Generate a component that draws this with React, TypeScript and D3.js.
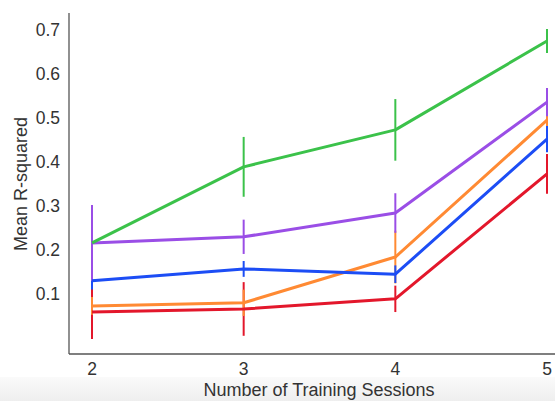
import React from "react";
import * as d3 from "d3";

const sessions = [2, 3, 4, 5];
const yTicks = [0.1, 0.2, 0.3, 0.4, 0.5, 0.6, 0.7];

const redMean = [0.059, 0.066, 0.089, 0.373];
const redErr = [0.061, 0.061, 0.03, 0.045];
const orangeMean = [0.073, 0.08, 0.184, 0.495];
const orangeErr = [0.02, 0.03, 0.06, 0.03];
const blueMean = [0.13, 0.157, 0.145, 0.452];
const blueErr = [0.02, 0.018, 0.02, 0.03];
const purpleMean = [0.216, 0.23, 0.284, 0.536];
const purpleErr = [0.086, 0.039, 0.045, 0.032];
const greenMean = [0.216, 0.389, 0.473, 0.675];
const greenErr = [0.05, 0.068, 0.07, 0.027];

const series = [
  { name: "green", color: "#3bc24a", mean: greenMean, err: greenErr },
  { name: "red", color: "#e3172b", mean: redMean, err: redErr },
  { name: "orange", color: "#ff8a33", mean: orangeMean, err: orangeErr },
  { name: "blue", color: "#1c4df5", mean: blueMean, err: blueErr },
  { name: "purple", color: "#9a4ee6", mean: purpleMean, err: purpleErr },
];
const lineOrder = ["red", "orange", "blue", "purple", "green"];

export default function App() {
  const W = 555;
  const H = 401;
  const left = 69;
  const top = 13;
  const bottom = 354;
  const x = d3.scaleLinear().domain([2, 5]).range([92, 547]);
  const y = d3.scaleLinear().domain([0, 0.7]).range([338, 30]);
  const line = d3
    .line<number>()
    .x((_, i) => x(sessions[i]))
    .y((d) => y(d));
  const font = "'Liberation Sans', Arial, sans-serif";
  return (
    <svg
      width={W}
      height={H}
      style={{ position: "absolute", left: 0, top: 0 }}
      fontFamily={font}
    >
      <defs>
        <linearGradient id="band" x1="0" y1="0" x2="0" y2="1">
          <stop offset="0" stopColor="#fafafa" />
          <stop offset="1" stopColor="#eeeeee" />
        </linearGradient>
      </defs>
      <rect x={0} y={0} width={W} height={H} fill="#ffffff" />
      <rect x={0} y={377} width={W} height={H - 377} fill="url(#band)" />
      {series.map((s) => (
        <g key={s.name + "-err"}>
          {s.mean.map((m, i) => (
            <line
              key={i}
              x1={x(sessions[i])}
              x2={x(sessions[i])}
              y1={y(m - s.err[i])}
              y2={y(m + s.err[i])}
              stroke={s.color}
              strokeWidth={2}
            />
          ))}
        </g>
      ))}
      {lineOrder.map((n) => {
        const s = series.find((d) => d.name === n)!;
        return (
          <path
            key={n}
            d={line(s.mean) || ""}
            fill="none"
            stroke={s.color}
            strokeWidth={3}
            strokeLinejoin="round"
          />
        );
      })}
      <line x1={left} x2={left} y1={top} y2={bottom} stroke="#555" strokeWidth={1.3} />
      <line x1={left} x2={W} y1={bottom} y2={bottom} stroke="#555" strokeWidth={1.3} />
      {yTicks.map((t) => (
        <text
          key={t}
          x={60}
          y={y(t)}
          textAnchor="end"
          dominantBaseline="central"
          fontSize={17.5}
          fill="#333"
        >
          {d3.format(".1f")(t)}
        </text>
      ))}
      {sessions.map((s) => (
        <text
          key={s}
          x={x(s)}
          y={369}
          textAnchor="middle"
          dominantBaseline="central"
          fontSize={17.5}
          fill="#333"
        >
          {s}
        </text>
      ))}
      <text x={319} y={396} textAnchor="middle" fontSize={18} fill="#333">
        Number of Training Sessions
      </text>
      <text
        transform={`translate(21,184) rotate(-90)`}
        textAnchor="middle"
        dominantBaseline="central"
        fontSize={18}
        fill="#333"
      >
        Mean R-squared
      </text>
    </svg>
  );
}
